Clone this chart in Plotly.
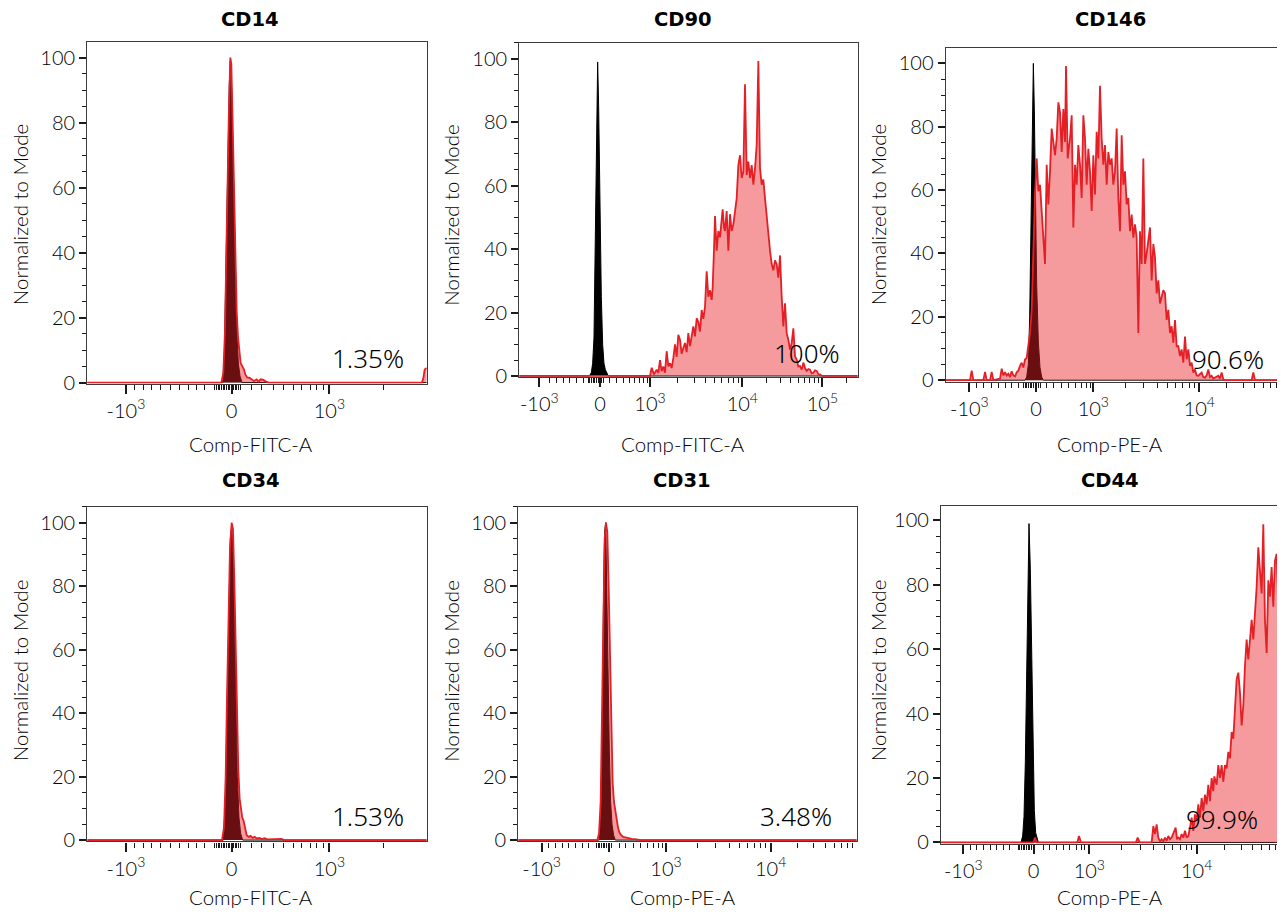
import math
import plotly.graph_objects as go

# ------------------------------------------------------------------
# DATA  (x = display channel on each panel's biexponential axis,
#        y = "Normalized to Mode", % of the mode)
# ------------------------------------------------------------------
titles = ["CD14", "CD90", "CD146", "CD34", "CD31", "CD44"]
x_titles = ["Comp-FITC-A", "Comp-FITC-A", "Comp-PE-A",
            "Comp-FITC-A", "Comp-PE-A", "Comp-PE-A"]
percent_text = ["1.35%", "100%", "90.6%", "1.53%", "3.48%", "99.9%"]

# --- CD14 ---
cd14_iso_x = [262, 668, 673, 678, 683, 688, 691, 695, 699, 703, 707, 711, 715, 720, 726, 1280]
cd14_iso_y = [0, 0, 8, 35, 68, 92, 99, 90, 70, 48, 28, 14, 6, 2, 0, 0]
cd14_x = [262, 664, 670, 675, 679, 683, 687, 691, 694, 698, 702, 706, 710, 714, 718, 722, 727,
          732, 736, 742, 748, 756, 762, 770, 776, 782, 790, 798, 806, 1266, 1270, 1274, 1280]
cd14_y = [0, 0, 3, 16, 40, 65, 85, 100, 98, 80, 57, 38, 22, 14, 9, 6, 5,
          4, 2.5, 1.5, 1.5, 1, 0.5, 1, 0.3, 1, 0.8, 0.3, 0, 0, 1.5, 4, 4.5]

# --- CD90 ---
cd90_iso_x = [268, 478, 484, 488, 492, 496, 500, 503, 506, 510, 514, 518, 522, 526, 530, 535, 1283]
cd90_iso_y = [0, 0, 1, 4, 12, 45, 90, 99, 85, 50, 25, 10, 4, 2, 1, 0, 0]
cd90_x = [268, 660, 665, 672, 680, 685, 690, 695, 700, 705, 710, 715, 720, 725, 730, 735, 740,
          745, 750, 755, 760, 765, 770, 775, 780, 785, 790, 795, 800, 805, 810, 815, 820,
          825, 830, 835, 840, 845, 848, 852, 855, 860, 865, 870, 875, 878, 882, 885, 890,
          895, 900, 905, 910, 915, 920, 925, 930, 935, 940, 945, 950, 955, 960, 965, 970,
          975, 980, 985, 990, 995, 1000, 1005, 1010, 1015, 1020, 1025, 1030, 1035, 1040,
          1045, 1050, 1055, 1060, 1065, 1070, 1075, 1080, 1085, 1090, 1095, 1100, 1105,
          1110, 1115, 1120, 1125, 1130, 1135, 1140, 1145, 1150, 1155, 1160, 1165, 1170,
          1176, 1283]
cd90_y = [0, 0, 2.6, 0.5, 2, 1, 5, 1.5, 3, 1, 7.8, 3, 4, 2.5, 5.7, 10, 6,
          13, 11.4, 7, 8.8, 10.4, 7.5, 13.5, 9.4, 12, 15.6, 12.5, 18.2, 17, 14, 20.8, 18,
          21.8, 33, 25, 27, 24, 28, 40, 50.4, 39.5, 45.7, 43.7, 48, 52.5, 47, 45.7, 52,
          39.5, 51, 45.7, 47.8, 53, 56, 66.5, 69.6, 62.4, 64.4, 92, 63.4, 67.6, 62.4, 66.5, 60.3,
          65.5, 72.8, 99.3, 65.5, 60.3, 61.9, 56, 50, 43.7, 39.5, 35.3, 33.3, 36.4, 35.3,
          31, 38, 25, 15.6, 22.9, 13.5, 11.4, 8.3, 10.4, 15, 6.2, 5.2, 3,
          3.1, 2, 4.2, 2.5, 1.6, 2.2, 2, 0.8, 1, 1.8, 1.6, 0.6, 0.5,
          0, 0]

# --- CD146 ---
cd146_iso_x = [272, 510, 515, 520, 524, 528, 531, 535, 538, 541, 545, 550, 555, 560, 565, 1285]
cd146_iso_y = [0, 0, 1, 5, 20, 50, 85, 100, 85, 55, 30, 12, 4, 1, 0, 0]
cd146_x = [272, 345, 350, 355, 385, 390, 395, 405, 410, 415, 435, 440, 445, 450, 455, 460,
           465, 470, 475, 480, 485, 490, 495, 500, 505, 510, 515, 520, 525, 530, 535, 540,
           545, 550, 555, 560, 565, 570, 575, 580, 585, 590, 595, 600, 605, 610, 615, 620,
           625, 630, 633, 638, 645, 650, 655, 660, 665, 670, 675, 680, 685, 690, 695, 700,
           705, 710, 715, 720, 725, 730, 735, 740, 745, 750, 755, 760, 765, 770, 775, 780,
           785, 790, 795, 800, 805, 810, 815, 820, 825, 830, 835, 840, 845, 850, 855, 860,
           865, 870, 875, 880, 885, 890, 895, 900, 905, 910, 915, 920, 925, 930, 935, 940,
           945, 950, 955, 960, 965, 970, 975, 980, 985, 990, 995, 1000, 1005, 1010, 1015,
           1020, 1025, 1030, 1035, 1040, 1045, 1050, 1055, 1060, 1065, 1070, 1075, 1080,
           1090, 1095, 1100, 1105, 1110, 1190, 1195, 1200, 1285]
cd146_y = [0, 0, 3, 0, 0, 2.6, 0, 0, 2.6, 0, 0.5, 3.6, 1.5, 2.5, 1.5, 2,
           1, 2.8, 1.5, 1.2, 2.5, 3, 4.5, 5.5, 4, 6.5, 7, 11.8, 15, 22, 45, 58.6,
           70, 59.6, 61.7, 54.4, 47, 36.7, 68, 55.5, 65.9, 79.4, 75.2, 71, 76.3, 87.7, 84.6, 72,
           85.6, 75.2, 99.2, 70, 76.3, 83.6, 48.2, 68, 61.7, 74.2, 68, 57.5, 83.6, 76.3, 61.7, 73,
           65.9, 53.4, 71, 58.6, 78.4, 70, 92.9, 76.3, 68, 74.2, 61.7, 72, 68, 70, 61.7, 65.9,
           79.4, 57.5, 47, 77.3, 61.7, 65.9, 55.5, 57.5, 47, 52.3, 45, 49.2, 45, 14.9, 47, 36.7,
           70, 36.7, 40, 45, 48.2, 31.5, 43, 38.8, 27.4, 31.5, 24.2, 26.3, 28.4, 27.4, 19, 22.2,
           14.9, 17, 11.8, 19, 10.7, 10.7, 7.6, 9.7, 5.5, 13.8, 6.6, 9.7, 4.5, 5.5, 2.4,
           3.4, 1.5, 1.4, 2, 2.4, 1, 0.8, 1.5, 3.4, 1, 1.4, 0.5, 0.8,
           1.4, 0.5, 2.4, 0.3, 0, 0, 2.4, 0, 0]

# --- CD34 ---
cd34_iso_x = [262, 670, 676, 681, 686, 691, 695, 700, 704, 708, 712, 717, 722, 728, 1280]
cd34_iso_y = [0, 0, 12, 42, 75, 95, 99, 88, 65, 40, 20, 7, 2, 0, 0]
cd34_x = [262, 666, 672, 677, 681, 685, 690, 695, 699, 703, 707, 711, 715, 719, 723, 727, 731,
          735, 740, 746, 752, 758, 764, 770, 778, 786, 794, 802, 815, 830, 845, 852, 1280]
cd34_y = [0, 0, 4, 20, 45, 70, 92, 100, 98, 82, 60, 38, 22, 13, 9, 7, 6,
          3.5, 1.5, 1, 1.3, 0.7, 1, 0.5, 0.7, 0.3, 0.6, 0.2, 0.3, 0.2, 0.4, 0, 0]

# --- CD31 ---
cd31_iso_x = [265, 508, 513, 517, 521, 524, 527, 530, 534, 538, 542, 546, 551, 556, 1280]
cd31_iso_y = [0, 0, 8, 35, 80, 97, 100, 85, 55, 28, 12, 5, 1.5, 0, 0]
cd31_x = [265, 502, 507, 512, 516, 520, 524, 528, 532, 536, 540, 544, 548, 552, 556, 560, 564,
          568, 574, 580, 588, 596, 605, 615, 625, 632, 1280]
cd31_y = [0, 0, 2, 12, 40, 75, 95, 100, 97, 80, 55, 32, 18, 12, 9, 7, 4,
          2.5, 1.5, 1, 0.8, 0.5, 0.4, 0.3, 0.2, 0, 0]

# --- CD44 ---
cd44_iso_x = [258, 498, 503, 507, 511, 515, 519, 522, 526, 530, 534, 538, 542, 546, 550, 1285]
cd44_iso_y = [0, 0, 2, 8, 25, 55, 90, 99, 85, 55, 25, 10, 3, 1, 0, 0]
cd44_x = [258, 535, 540, 545, 667, 672, 678, 843, 848, 854, 890, 895, 900, 905, 910, 915, 920,
          925, 930, 935, 940, 945, 950, 955, 962, 966, 970, 975, 980, 985, 990, 995, 1000,
          1005, 1010, 1015, 1020, 1025, 1030, 1035, 1040, 1045, 1050, 1055, 1060, 1065, 1070,
          1075, 1078, 1085, 1090, 1095, 1100, 1105, 1110, 1115, 1120, 1125, 1130, 1135, 1140,
          1145, 1150, 1155, 1160, 1165, 1170, 1175, 1180, 1185, 1190, 1195, 1200, 1205, 1210,
          1215, 1220, 1225, 1230, 1235, 1240, 1245, 1250, 1255, 1260, 1265, 1270, 1275, 1280,
          1285]
cd44_y = [0, 0, 1.5, 0, 0, 2, 0, 0, 1.5, 0, 0, 5.1, 2.6, 5.6, 1.5, 0.3, 1,
          0.3, 1.5, 0.5, 2, 1, 1.5, 2.6, 4.6, 1, 1.5, 1, 2.6, 1.5, 3.6, 1.5, 2,
          4.6, 7.7, 3.6, 8.7, 6.7, 11.8, 7.7, 13.8, 9.7, 14.8, 11.8, 17.9, 12.8, 20,
          15.9, 20.5, 17.9, 24, 20, 24, 18.9, 24, 23, 28.1, 26.1, 34.3, 32.2, 40.4,
          50.7, 52.7, 46.6, 36.3, 42.5, 54.8, 63, 56.8, 63, 69.1, 63, 71.2, 79.3, 91.6,
          83.4, 77.3, 98.8, 69.1, 58.8, 81.4, 76.3, 85.5, 73.2, 87.5, 89.6, 73.2, 91.6, 100,
          100]

iso_series = [(cd14_iso_x, cd14_iso_y), (cd90_iso_x, cd90_iso_y), (cd146_iso_x, cd146_iso_y),
              (cd34_iso_x, cd34_iso_y), (cd31_iso_x, cd31_iso_y), (cd44_iso_x, cd44_iso_y)]
sample_series = [(cd14_x, cd14_y), (cd90_x, cd90_y), (cd146_x, cd146_y),
                 (cd34_x, cd34_y), (cd31_x, cd31_y), (cd44_x, cd44_y)]

# ------------------------------------------------------------------
# AXIS DEFINITIONS (biexponential display: tick channel positions)
# ------------------------------------------------------------------
NEG = "-10<sup>3</sup>"


def dec(k):
    return "10<sup>%d</sup>" % k


fitc_short = dict(range=[262, 1280], major=[378, 695, 988], labels=[NEG, "0", dec(3)],
                  lin_minor=[405, 430, 455, 483, 512, 540, 565, 590, 615,
                             755, 785, 820, 850, 880, 905, 930, 950, 970, 1150],
                  cluster=(645, 720), decades=[])
axis_specs = [
    fitc_short,
    dict(range=[268, 1283], major=[328, 510, 660, 937, 1177],
         labels=[NEG, "0", dec(3), dec(4), dec(5)],
         lin_minor=[360, 380, 400, 420, 440, 460, 540, 560, 580, 600, 615, 630, 642, 652],
         cluster=(475, 522), decades=[(660, 937), (937, 1177), (1177, 1420)]),
    dict(range=[272, 1285], major=[343, 543, 715, 1033], labels=[NEG, "0", dec(3), dec(4)],
         lin_minor=[365, 385, 410, 430, 450, 470, 490, 575, 595, 620, 640, 660, 680, 695, 705],
         cluster=(505, 555), decades=[(715, 1033), (1033, 1308)]),
    dict(fitc_short),
    dict(range=[265, 1280], major=[335, 537, 708, 1022], labels=[NEG, "0", dec(3), dec(4)],
         lin_minor=[357, 377, 397, 417, 437, 457, 477, 568, 588, 612, 632, 652, 672, 687, 698],
         cluster=(500, 545), decades=[(708, 1022), (1022, 1294)]),
    dict(range=[258, 1285], major=[325, 536, 703, 1025], labels=[NEG, "0", dec(3), dec(4)],
         lin_minor=[345, 365, 385, 405, 425, 445, 465, 565, 585, 605, 625, 645, 665, 680, 690],
         cluster=(490, 540), decades=[(703, 1025), (1025, 1305)]),
]

y_ranges = [(-0.3, 104.7), (-0.3, 105.0), (-0.44, 104.9),
            (-0.44, 105.0), (-0.44, 105.0), (-0.5, 104.4)]

# ------------------------------------------------------------------
# LAYOUT (pixel geometry of the reference)
# ------------------------------------------------------------------
OFF = 8            # default body margin of the html page
W, H = 1285 - OFF, 920 - OFF

frames = [(87.3, 426.7, 42.7, 387.7), (519.3, 857.7, 43.3, 381.0), (945.7, 1283.3, 48.3, 385.7),
          (87.3, 426.7, 512.3, 850.7), (518.3, 856.7, 512.3, 850.7), (941.0, 1283.3, 511.7, 853.3)]
title_pos = [(250, 20), (683, 20), (1110, 20), (251, 486), (682, 486), (1110, 486)]
xtitle_pos = [(251, 449), (683, 449), (1110, 449), (251, 907), (683, 907), (1110, 907)]
ytitle_pos = [(19.5, 217), (451, 217), (877.5, 217), (19.5, 678), (451, 678), (877.5, 678)]
pct_pos = [(1105, 7.6), (1132, 7.1), (1120, 6.6), (1104, 7.6), (1099, 7.6), (1101, 7.2)]


def px(x):
    return (x - OFF) / W


def py(y):
    return 1 - (y - OFF) / H


RED = "#e41f26"
RED_FILL = "rgba(232,30,37,0.45)"
AX = "#000000"
FONT = "Lato"
LIGHT = 300

fig = go.Figure()
annotations = []
layout = dict(width=W, height=H, margin=dict(l=0, r=0, t=0, b=0),
              paper_bgcolor="white", plot_bgcolor="white", showlegend=False,
              font=dict(family=FONT, size=20, color=AX, weight=LIGHT))

for i in range(6):
    n = "" if i == 0 else str(i + 1)
    xa, ya = "x" + n, "y" + n
    spec = axis_specs[i]
    lo, hi = spec["range"]
    minors = list(spec["lin_minor"])
    c0, c1 = spec["cluster"]
    c = c0
    while c <= c1:
        minors.append(c)
        c += 5
    for a, b in spec["decades"]:
        for m in range(2, 10):
            minors.append(a + math.log10(m) * (b - a))
    minors = sorted(v for v in minors if lo <= v <= hi)

    ix, iy = iso_series[i]
    sx, sy = sample_series[i]
    fig.add_trace(go.Scatter(x=ix, y=iy, xaxis=xa, yaxis=ya, mode="lines",
                             line=dict(color="black", width=1), fill="tozeroy",
                             fillcolor="black", hoverinfo="skip"))
    fig.add_trace(go.Scatter(x=sx, y=sy, xaxis=xa, yaxis=ya, mode="lines",
                             line=dict(color=RED, width=1.8), fill="tozeroy",
                             fillcolor=RED_FILL, hoverinfo="skip"))

    l, r, t, b = frames[i]
    layout["xaxis" + n] = dict(
        domain=[px(l), px(r)], range=[lo, hi], anchor=ya,
        showline=True, mirror=True, linecolor="#3c3c3c", linewidth=1.3,
        showgrid=False, zeroline=False,
        tickmode="array", tickvals=spec["major"], ticktext=spec["labels"],
        ticks="outside", ticklen=9, tickwidth=2.2, tickcolor="#1a1a1a",
        tickfont=dict(family=FONT, size=20, color=AX, weight=LIGHT),
        minor=dict(tickmode="array", tickvals=minors, ticks="outside", ticklen=5,
                   tickwidth=1.4, tickcolor="#1a1a1a", showgrid=False),
    )
    y0, y1 = y_ranges[i]
    layout["yaxis" + n] = dict(
        domain=[py(b), py(t)], range=[y0, y1], anchor=xa,
        showline=True, mirror=True, linecolor="#3c3c3c", linewidth=1.3,
        showgrid=False, zeroline=False,
        tickmode="array", tickvals=[0, 20, 40, 60, 80, 100],
        ticks="outside", ticklen=7, tickwidth=1.6, tickcolor="#1a1a1a",
        tickfont=dict(family=FONT, size=20, color=AX, weight=LIGHT),
        minor=dict(dtick=5, tick0=0, ticks="outside", ticklen=4, tickwidth=1.2,
                   tickcolor="#1a1a1a", showgrid=False),
    )

    tx, ty = title_pos[i]
    annotations.append(dict(text="<b>%s</b>" % titles[i], x=px(tx), y=py(ty),
                            xref="paper", yref="paper", showarrow=False,
                            xanchor="center", yanchor="middle",
                            font=dict(family="DejaVu Sans", size=19.5, color="black")))
    tx, ty = xtitle_pos[i]
    annotations.append(dict(text=x_titles[i], x=px(tx), y=py(ty),
                            xref="paper", yref="paper", showarrow=False,
                            xanchor="center", yanchor="middle",
                            font=dict(family=FONT, size=20.5, color=AX, weight=LIGHT)))
    tx, ty = ytitle_pos[i]
    annotations.append(dict(text="Normalized to Mode", x=px(tx), y=py(ty),
                            xref="paper", yref="paper", showarrow=False, textangle=-90,
                            xanchor="center", yanchor="middle",
                            font=dict(family=FONT, size=20.5, color=AX, weight=LIGHT)))
    tx, ty = pct_pos[i]
    annotations.append(dict(text=percent_text[i], x=tx, y=ty, xref=xa, yref=ya,
                            showarrow=False, xanchor="center", yanchor="middle",
                            font=dict(family="Noto Sans", size=26, color="black")))

layout["annotations"] = annotations
fig.update_layout(**layout)
fig.write_html("out.html")
